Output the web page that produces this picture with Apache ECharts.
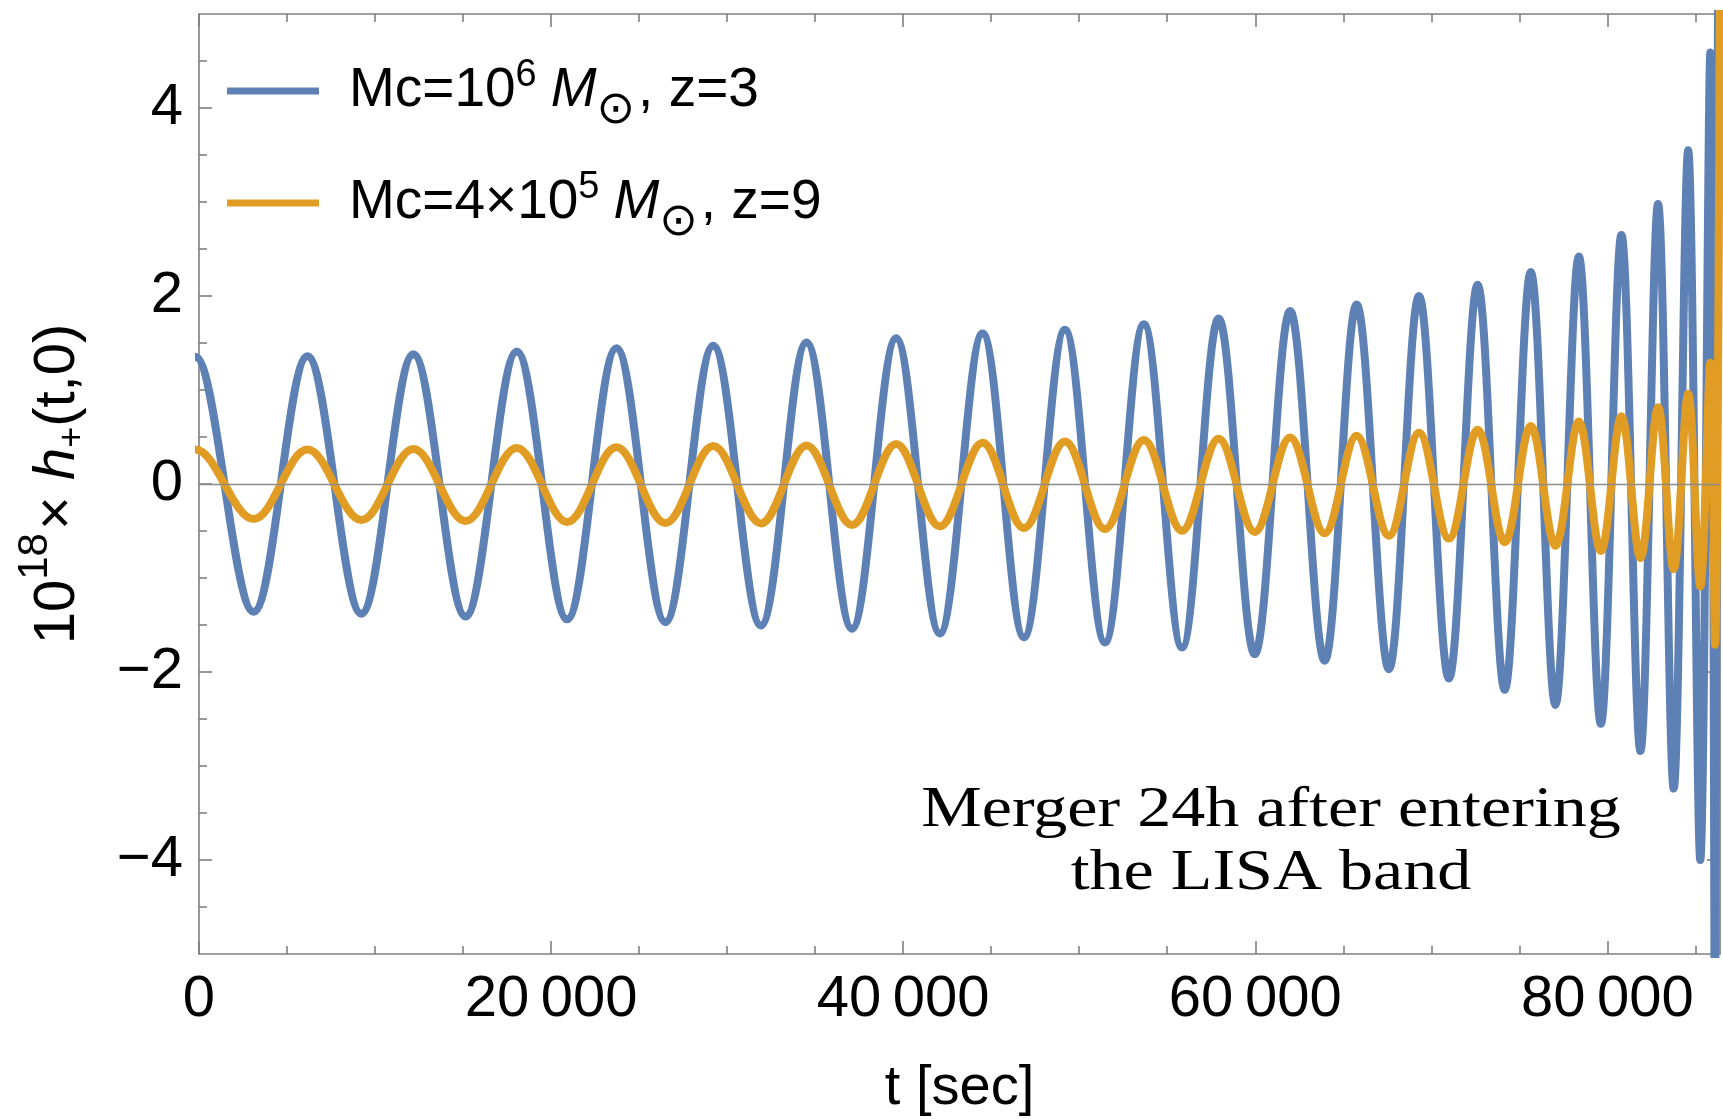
<!DOCTYPE html>
<html>
<head>
<meta charset="utf-8">
<script src="https://cdn.jsdelivr.net/npm/echarts@6/dist/echarts.min.js"></script>
<style>
html,body{margin:0;padding:0;background:#ffffff;}
#chart{width:1723px;height:1119px;}
</style>
</head>
<body>
<div id="chart"></div>
<script>
// ---- data: times of the successive extrema (s) ----
// (the first two extrema lie just before t = 0; the wave enters the plot right after a crest)
const tExtrema = [-3250, -200, 3100, 6160, 9220, 12180, 15140, 18050, 20910, 23710, 26490,
  29210, 31920, 34510, 37090, 39600, 42080, 44510, 46860, 49190, 51460,
  53670, 55840, 57920, 59970, 61980, 63940, 65760, 67590, 69300, 71000,
  72630, 74170, 75650, 77050, 78380, 79630, 80800, 81880, 82880, 83770,
  84590, 85280, 85850, 86120, 86400];
// 10^18 h+ at those extrema, Mc = 10^6 Msun, z = 3
const hBlue = [-1.35, 1.355, -1.36, 1.36, -1.38, 1.38, -1.41, 1.41, -1.44, 1.445, -1.47,
  1.47, -1.505, 1.505, -1.54, 1.55, -1.59, 1.60, -1.63, 1.64, -1.685,
  1.70, -1.74, 1.76, -1.81, 1.84, -1.88, 1.91, -1.97, 2.00, -2.07,
  2.12, -2.19, 2.255, -2.35, 2.42, -2.55, 2.65, -2.84, 2.98, -3.24,
  3.55, -4.00, 4.59, -6.3, 20];
// 10^18 h+ at those extrema, Mc = 4x10^5 Msun, z = 9
const hOrange = [-0.37, 0.367, -0.372, 0.368, -0.383, 0.372, -0.394, 0.383, -0.404, 0.39, -0.415,
  0.404, -0.419, 0.41, -0.436, 0.425, -0.45, 0.44, -0.468, 0.453, -0.479,
  0.468, -0.497, 0.482, -0.51, 0.494, -0.524, 0.514, -0.55, 0.544, -0.58,
  0.578, -0.62, 0.616, -0.656, 0.665, -0.714, 0.72, -0.79, 0.817, -0.904,
  0.96, -1.09, 1.29, -1.71, 5.6];

const seriesNames = ['Mc=10\u2076 M\u2299, z=3', 'Mc=4\u00d710\u2075 M\u2299, z=9'];
const legendLabels = ['{t|Mc=10}{sup|6}{it|M}{sub|\u2299}{t|, z=3}',
                      '{t|Mc=4\u00d710}{sup|5}{it|M}{sub|\u2299}{t|, z=9}'];
const xMajorTicks = [0, 20000, 40000, 60000, 80000];
const xMinorTicks = [5000, 10000, 15000, 25000, 30000, 35000, 45000, 50000, 55000,
                     65000, 70000, 75000, 85000];
const yMajorTicks = [-4, -2, 0, 2, 4];
const yMinorTicks = [-4.5, -3.5, -3, -2.5, -1.5, -1, -0.5, 0.5, 1, 1.5, 2.5, 3, 3.5, 4.5];
const xAxisTitle = 't [sec]';
const yAxisTitle = '{n|10}{sup|18}{n|\u00d7 }{it|h}{sub|+}{n|(t,0)}';
const noteLines = ['Merger 24h after entering', 'the LISA band'];

// ---- styling ----
const BLUE = '#5E81B5', ORANGE = '#E19C24', FRAME = '#7f7f7f';
const FONT = 'Liberation Sans';

function fmtX(v) {
  const s = String(Math.round(v));
  return v >= 10000 ? s.replace(/(\d)(?=(\d{3})+$)/, '$1\u2009') : s;
}
function fmtY(v) {
  return v < 0 ? '\u2212' + Math.abs(v) : String(v);
}

function xAx(pos, ticks, len, showLine, showLabel) {
  return {
    type: 'value', min: 0, max: 86400, position: pos,
    axisLine: {show: showLine, onZero: false, lineStyle: {color: FRAME, width: 1.6}},
    axisTick: {show: true, inside: true, length: len, customValues: ticks,
               lineStyle: {color: FRAME, width: 1.6}},
    axisLabel: showLabel ? {show: true, customValues: ticks, formatter: fmtX, margin: 17,
               color: '#000', fontSize: 58, fontFamily: FONT} : {show: false},
    splitLine: {show: false}, minorTick: {show: false}
  };
}
function yAx(pos, ticks, len, showLine, showLabel) {
  return {
    type: 'value', min: -5, max: 5, position: pos,
    axisLine: {show: showLine, onZero: false, lineStyle: {color: FRAME, width: 1.6}},
    axisTick: {show: true, inside: true, length: len, customValues: ticks,
               lineStyle: {color: FRAME, width: 1.6}},
    axisLabel: showLabel ? {show: true, customValues: ticks, formatter: fmtY, margin: 16,
               color: '#000', fontSize: 58, fontFamily: FONT} : {show: false},
    splitLine: {show: false}, minorTick: {show: false}
  };
}

const xAxes = [
  xAx('bottom', xMajorTicks, 13, true, true),
  xAx('bottom', xMinorTicks, 8, false, false),
  xAx('top', xMajorTicks, 13, true, false),
  xAx('top', xMinorTicks, 8, false, false)
];
xAxes[0].name = xAxisTitle;
xAxes[0].nameLocation = 'middle';
xAxes[0].nameGap = 105;
xAxes[0].nameTextStyle = {fontSize: 56, fontFamily: FONT, color: '#000', lineHeight: 60};

const yAxes = [
  yAx('left', yMajorTicks, 13, true, true),
  yAx('left', yMinorTicks, 8, false, false),
  yAx('right', yMajorTicks, 13, true, false),
  yAx('right', yMinorTicks, 8, false, false)
];
yAxes[0].name = yAxisTitle;
yAxes[0].nameLocation = 'middle';
yAxes[0].nameRotate = 90;
yAxes[0].nameGap = 106;
yAxes[0].nameTextStyle = {
  color: '#000', fontFamily: FONT, fontSize: 58, lineHeight: 70,
  rich: {
    n: {fontSize: 58, fontFamily: FONT, color: '#000', lineHeight: 70},
    sup: {fontSize: 42, fontFamily: FONT, color: '#000', lineHeight: 70, padding: [0, 3, 46, 0]},
    it: {fontSize: 58, fontFamily: FONT, fontStyle: 'italic', color: '#000', lineHeight: 70},
    sub: {fontSize: 36, fontFamily: FONT, color: '#000', lineHeight: 70, padding: [30, 0, 0, 0]}
  }
};

const legendText = {
  fontSize: 55, fontFamily: FONT, color: '#000', lineHeight: 60, padding: [0, 0, 0, 25],
  rich: {
    t: {fontSize: 55, fontFamily: FONT, color: '#000', lineHeight: 60},
    sup: {fontSize: 38, fontFamily: FONT, color: '#000', lineHeight: 60, height: 30, padding: [0, 14, 30, 0]},
    it: {fontSize: 55, fontFamily: FONT, fontStyle: 'italic', color: '#000', lineHeight: 60},
    sub: {fontSize: 46, fontFamily: 'DejaVu Sans', color: '#000', lineHeight: 60, height: 20, padding: [40, 3, 0, 0]}
  }
};
function makeLegend(i, top) {
  return {
    show: true, orient: 'vertical', left: 227, top: top, padding: 0,
    itemWidth: 92, itemHeight: 7, icon: 'rect', selectedMode: false,
    data: [seriesNames[i]],
    formatter: name => legendLabels[seriesNames.indexOf(name)],
    textStyle: legendText
  };
}

function pairs(vals) { return tExtrema.map((t, i) => [t, vals[i]]); }

const chart = echarts.init(document.getElementById('chart'), null, {renderer: 'canvas'});
chart.setOption({
  animation: false,
  backgroundColor: '#ffffff',
  textStyle: {fontFamily: FONT},
  grid: {left: 199, right: 3, top: 14, bottom: 165, containLabel: false, outerBoundsMode: 'none'},
  xAxis: xAxes,
  yAxis: yAxes,
  legend: [makeLegend(0, 57), makeLegend(1, 169)],
  series: [
    {
      name: seriesNames[0], type: 'line', xAxisIndex: 0, yAxisIndex: 0,
      data: pairs(hBlue), smooth: 0.36, showSymbol: false, symbol: 'none', clip: true,
      color: BLUE, itemStyle: {color: BLUE},
      lineStyle: {color: BLUE, width: 8, join: 'round', cap: 'butt'}, z: 3
    },
    {
      name: seriesNames[1], type: 'line', xAxisIndex: 0, yAxisIndex: 0,
      data: pairs(hOrange), smooth: 0.36, showSymbol: false, symbol: 'none', clip: true,
      color: ORANGE, itemStyle: {color: ORANGE},
      lineStyle: {color: ORANGE, width: 8, join: 'round', cap: 'butt'}, z: 4,
      markLine: {
        silent: true, symbol: ['none', 'none'], label: {show: false}, animation: false,
        lineStyle: {color: '#8c8c8c', width: 1.3, type: 'solid'},
        data: [{yAxis: 0}]
      }
    }
  ],
  graphic: [
    {type: 'text', x: 1271, y: 811, scaleX: 1.215, z: 10,
     style: {text: noteLines[0], fontSize: 56, fontFamily: 'Liberation Serif', fill: '#000',
             align: 'center', verticalAlign: 'middle', textAlign: 'center', textVerticalAlign: 'middle'}},
    {type: 'text', x: 1271, y: 874, scaleX: 1.215, z: 10,
     style: {text: noteLines[1], fontSize: 56, fontFamily: 'Liberation Serif', fill: '#000',
             align: 'center', verticalAlign: 'middle', textAlign: 'center', textVerticalAlign: 'middle'}}
  ]
});
</script>
</body>
</html>
